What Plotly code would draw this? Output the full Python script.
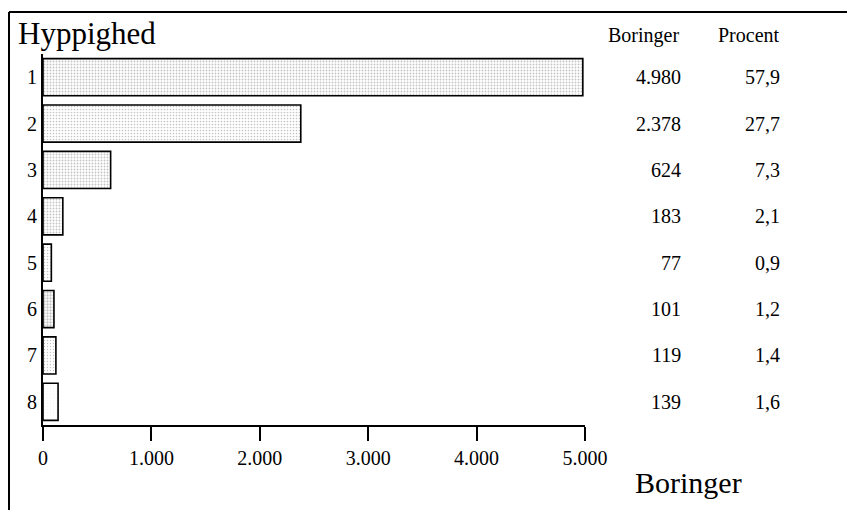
import plotly.graph_objects as go

# data
hyppighed = ["1", "2", "3", "4", "5", "6", "7", "8"]
boringer = [4980, 2378, 624, 183, 77, 101, 119, 139]
boringer_txt = ["4.980", "2.378", "624", "183", "77", "101", "119", "139"]
procent_txt = ["57,9", "27,7", "7,3", "2,1", "0,9", "1,2", "1,4", "1,6"]
x_ticks = [0, 1000, 2000, 3000, 4000, 5000]
x_ticktext = ["0", "1.000", "2.000", "3.000", "4.000", "5.000"]

# stipple density per bar (scan looks like halftone grey)
stipple = [0.3, 0.25, 0.3, 0.3, 0.2, 0.45, 0.15, 0.02]

FONT = "Liberation Serif"
OFF = 8  # default body margin of the html page
W, H = 855 - OFF, 510 - OFF
# plot area in page pixels: x 43..585, y 54..425
L, T = 43 - OFF, 54 - OFF
R = W - (585 - OFF)
B = H - (425 - OFF)
pw = W - L - R
ph = H - T - B


def px_to_paper_x(px):
    return (px - OFF - L) / pw


def px_to_paper_y(py):
    return (H - B - (py - OFF)) / ph


fig = go.Figure()
fig.add_trace(
    go.Bar(
        x=boringer,
        y=list(range(len(hyppighed))),
        orientation="h",
        width=0.8,
        marker=dict(
            color="white",
            line=dict(color="black", width=1.6),
            pattern=dict(
                shape=".",
                fgcolor="#8a8a8a",
                bgcolor="white",
                size=3,
                solidity=stipple,
            ),
        ),
        showlegend=False,
        hoverinfo="skip",
    )
)

ann = []
for i in range(len(hyppighed)):
    ann.append(dict(x=px_to_paper_x(683), xref="paper", y=i, yref="y",
                    text=boringer_txt[i], showarrow=False, xanchor="right",
                    font=dict(size=20, family=FONT, color="black")))
    ann.append(dict(x=px_to_paper_x(782), xref="paper", y=i, yref="y",
                    text=procent_txt[i], showarrow=False, xanchor="right",
                    font=dict(size=20, family=FONT, color="black")))

ann += [
    dict(x=px_to_paper_x(643), y=px_to_paper_y(35), xref="paper", yref="paper",
         text="Boringer", showarrow=False, xanchor="center", yanchor="middle",
         font=dict(size=20, family=FONT, color="black")),
    dict(x=px_to_paper_x(749), y=px_to_paper_y(35), xref="paper", yref="paper",
         text="Procent", showarrow=False, xanchor="center", yanchor="middle",
         font=dict(size=20, family=FONT, color="black")),
    dict(x=px_to_paper_x(16), y=px_to_paper_y(33), xref="paper", yref="paper",
         text="Hyppighed", showarrow=False, xanchor="left", yanchor="middle",
         font=dict(size=31, family=FONT, color="black")),
    dict(x=px_to_paper_x(633), y=px_to_paper_y(482), xref="paper", yref="paper",
         text="Boringer", showarrow=False, xanchor="left", yanchor="middle",
         font=dict(size=30, family=FONT, color="black")),
]

# frame lines of the scanned page (top and left edges)
shapes = [
    dict(type="line", xref="paper", yref="paper",
         x0=px_to_paper_x(9), x1=px_to_paper_x(OFF + W),
         y0=px_to_paper_y(12), y1=px_to_paper_y(12),
         line=dict(color="black", width=2)),
    dict(type="line", xref="paper", yref="paper",
         x0=px_to_paper_x(9), x1=px_to_paper_x(9),
         y0=px_to_paper_y(12), y1=px_to_paper_y(OFF + H),
         line=dict(color="black", width=2)),
]

fig.update_layout(
    width=W,
    height=H,
    margin=dict(l=L, r=R, t=T, b=B),
    plot_bgcolor="white",
    paper_bgcolor="white",
    font=dict(family=FONT, size=20, color="black"),
    annotations=ann,
    shapes=shapes,
    bargap=0.2,
)
fig.update_xaxes(
    range=[0, 5000],
    tickvals=x_ticks,
    ticktext=x_ticktext,
    showline=True,
    linecolor="black",
    linewidth=2,
    ticks="outside",
    ticklen=14,
    tickwidth=1.5,
    tickcolor="black",
    showgrid=False,
    zeroline=False,
    tickfont=dict(size=20, family=FONT),
)
fig.update_yaxes(
    range=[7.5, -0.5],
    tickvals=list(range(len(hyppighed))),
    ticktext=hyppighed,
    showline=True,
    linecolor="black",
    linewidth=2,
    ticks="",
    showgrid=False,
    zeroline=False,
    ticklabelstandoff=0,
    tickfont=dict(size=20, family=FONT),
)

fig.write_html("out.html")
